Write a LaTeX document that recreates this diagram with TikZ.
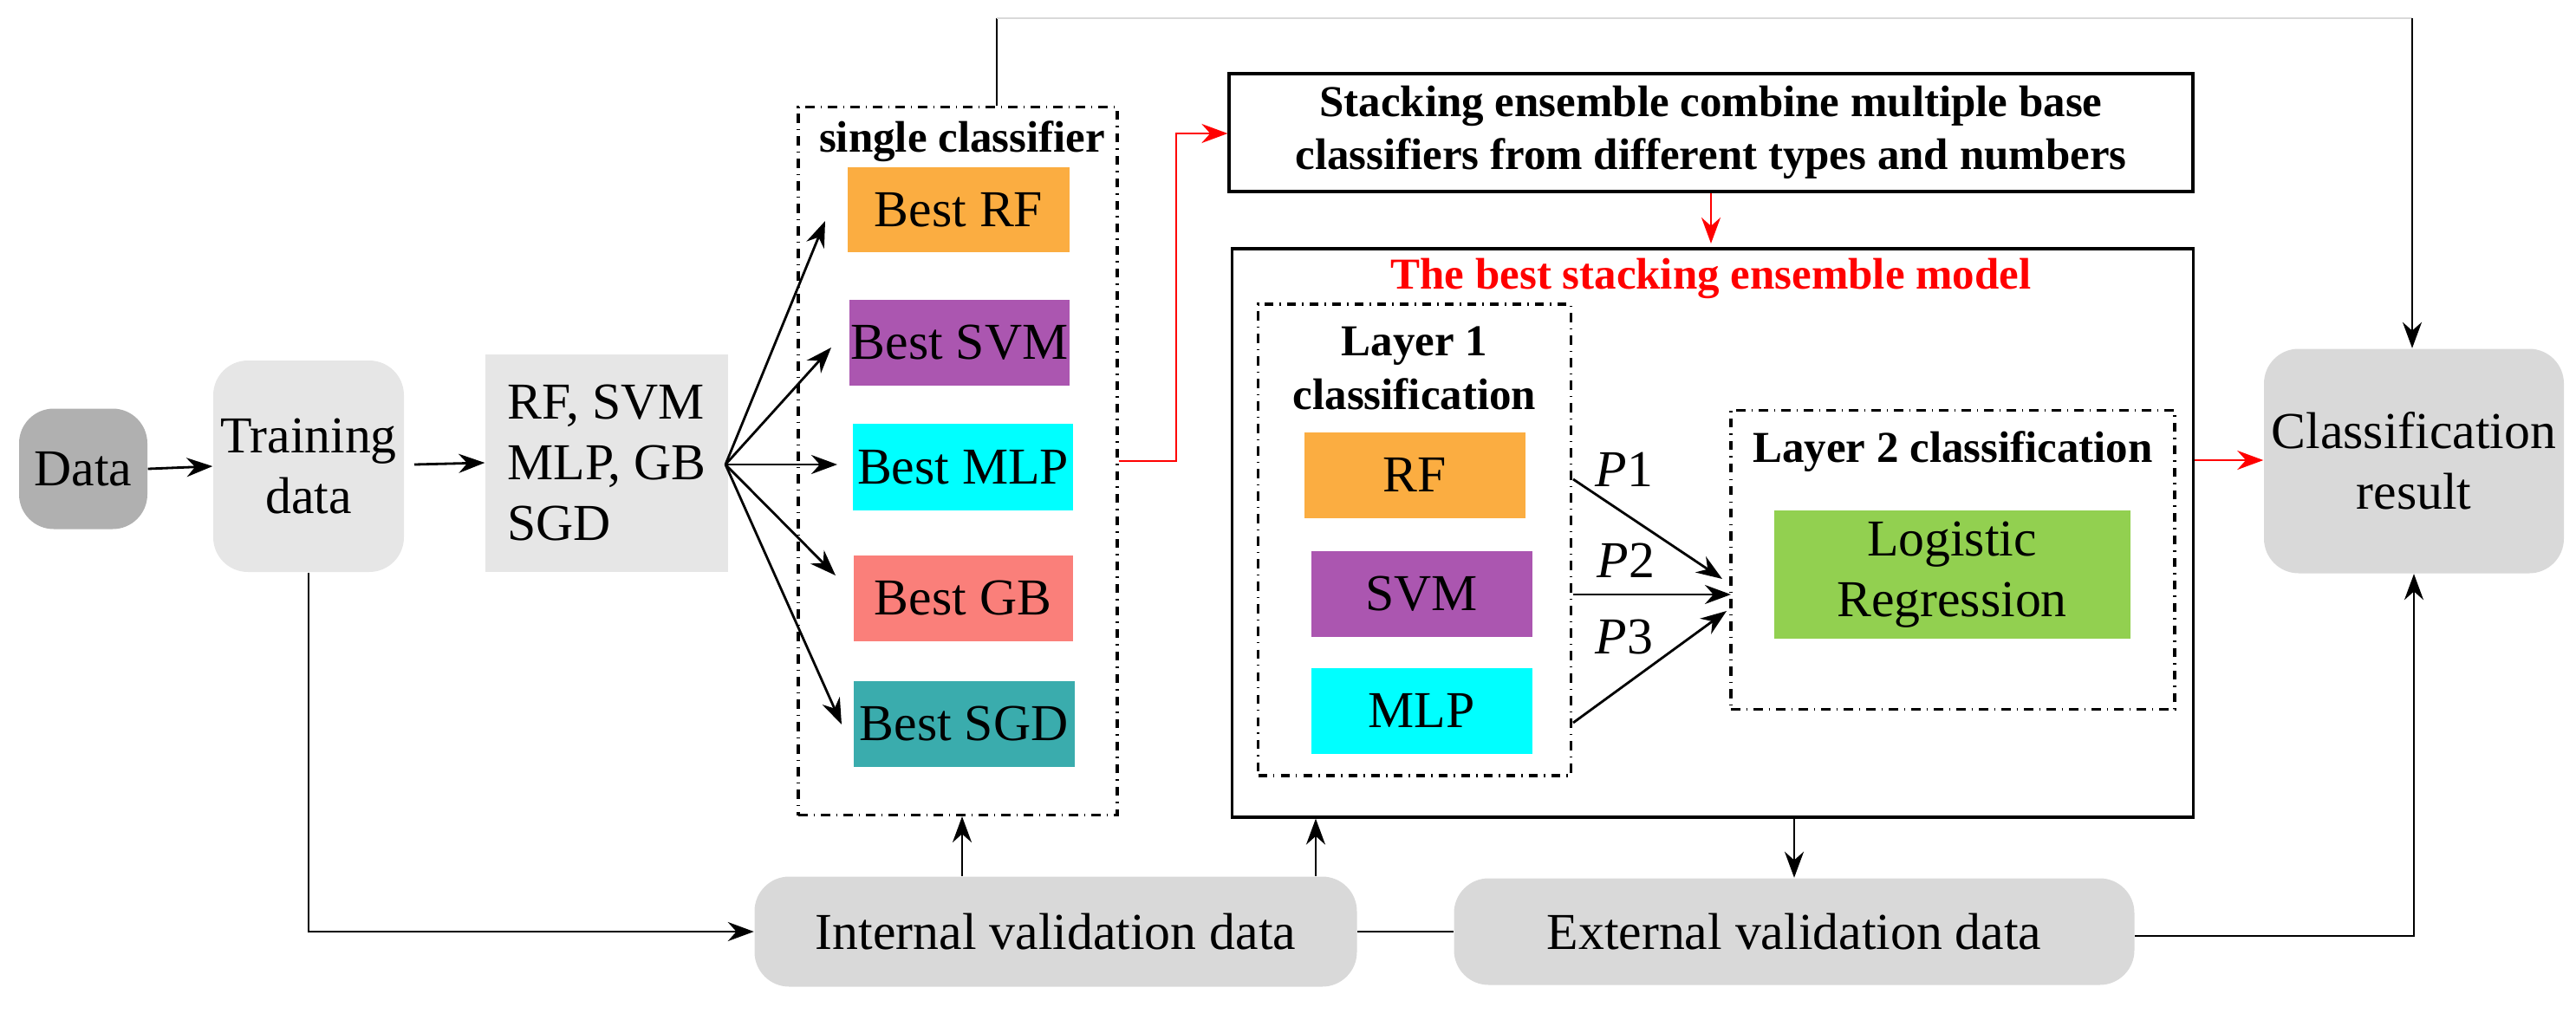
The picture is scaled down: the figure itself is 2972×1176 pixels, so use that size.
\documentclass[tikz,border=0pt]{standalone}
\usepackage{fontspec}
\setmainfont{Liberation Serif}
\usetikzlibrary{arrows.meta}
\definecolor{cRF}{HTML}{FBAD41}
\definecolor{cSVM}{HTML}{AB56B0}
\definecolor{cMLP}{HTML}{00FFFF}
\definecolor{cGB}{HTML}{FA7F7A}
\definecolor{cSGD}{HTML}{3AACAD}
\definecolor{cLR}{HTML}{92D050}
\definecolor{g1}{HTML}{B0B0B0}
\definecolor{g2}{HTML}{E6E6E6}
\definecolor{g3}{HTML}{D9D9D9}
\begin{document}
\begin{tikzpicture}[x=0.1mm,y=-0.1mm,
  txt/.style={font=\fontsize{17}{20}\selectfont},
  btxt/.style={font=\bfseries\fontsize{14.5}{17.5}\selectfont},
  box/.style={txt,inner sep=0,align=center},
  rbox/.style={box,rounded corners=4mm},
  dd/.style={dash dot,line width=0.9pt},
  arr/.style={-{Stealth[length=3mm,width=2.2mm]},line width=0.8pt},
  rarr/.style={arr,red}]
\useasboundingbox (0,0) rectangle (2972,1176);
% left nodes
\node[rbox,fill=g1,minimum width=148*0.1mm,minimum height=139*0.1mm] (data) at (96,541) {Data};
\node[rbox,fill=g2,minimum width=220*0.1mm,minimum height=244*0.1mm] (train) at (356,538) {Training\\data};
\node[box,fill=g2,minimum width=280*0.1mm,minimum height=251*0.1mm,align=left] (algs) at (700,534) {RF, SVM\\MLP, GB\\SGD};
% single classifier
\node[dd,draw,minimum width=368*0.1mm,minimum height=817*0.1mm,inner sep=0] (single) at (1105,532) {};
\node[btxt] (singlelbl) at (1110,163) {single classifier};
\node[box,fill=cRF,minimum width=256*0.1mm,minimum height=98*0.1mm] (bRF) at (1106,242) {Best RF};
\node[box,fill=cSVM,minimum width=254*0.1mm,minimum height=99*0.1mm] (bSVM) at (1107,395) {Best SVM};
\node[box,fill=cMLP,minimum width=254*0.1mm,minimum height=100*0.1mm] (bMLP) at (1111,539) {Best MLP};
\node[box,fill=cGB,minimum width=253*0.1mm,minimum height=99*0.1mm] (bGB) at (1111,690) {Best GB};
\node[box,fill=cSGD,minimum width=255*0.1mm,minimum height=99*0.1mm] (bSGD) at (1112,835) {Best SGD};
\coordinate (fan) at (837,536);
\coordinate (e1) at (952,255); \coordinate (e2) at (959,401);
\coordinate (e3) at (966,536); \coordinate (e4) at (964,664); \coordinate (e5) at (971,836);
\foreach \e in {e1,e2,e3,e4,e5} \draw[arr] (fan) -- (\e);
\draw[arr] (data.east) -- (train.west);
\draw[arr] (478,536) -- (algs.west);
% stacking box
\node[draw,line width=0.9pt,btxt,align=center,minimum width=1112*0.1mm,minimum height=136*0.1mm,inner sep=0] (stack) at (1974,153) {Stacking ensemble combine multiple base\\classifiers from different types and numbers};
\coordinate (r1) at (1357,532); \coordinate (r2) at (1357,154);
\draw[rarr] (single.east |- 0,532) -- (r1) -- (r2) -- (stack.west |- 0,154);
% model
\node[draw,line width=0.9pt,minimum width=1109*0.1mm,minimum height=656*0.1mm,inner sep=0] (model) at (1976,615) {};
\draw[rarr] (stack.south -| 1974,0) -- (1974,281);
\node[btxt,text=red] (title) at (1974,321) {The best stacking ensemble model};
\node[dd,draw,minimum width=361*0.1mm,minimum height=544*0.1mm,inner sep=0] (l1) at (1632,623) {};
\node[btxt,align=center] (l1lbl) at (1632,425) {Layer 1\\classification};
\node[box,fill=cRF,minimum width=255*0.1mm,minimum height=99*0.1mm] (RF) at (1632,548) {RF};
\node[box,fill=cSVM,minimum width=255*0.1mm,minimum height=99*0.1mm] (SVM) at (1640,685) {SVM};
\node[box,fill=cMLP,minimum width=255*0.1mm,minimum height=99*0.1mm] (MLP) at (1640,820) {MLP};
\node[dd,draw,minimum width=512*0.1mm,minimum height=345*0.1mm,inner sep=0] (l2) at (2253,646) {};
\node[btxt] (l2lbl) at (2253,521) {Layer 2 classification};
\node[box,fill=cLR,minimum width=411*0.1mm,minimum height=148*0.1mm] (LR) at (2252,663) {Logistic\\Regression};
\coordinate (p1s) at (1815,553); \coordinate (p2s) at (1815,686); \coordinate (p3s) at (1815,834);
\draw[arr] (p1s) -- (1987,668);
\draw[arr] (p2s) -- (1997,686);
\draw[arr] (p3s) -- (1992,705);
\node[txt] (P1) at (1874,542) {\textit{P}1};
\node[txt] (P2) at (1876,647) {\textit{P}2};
\node[txt] (P3) at (1874,735) {\textit{P}3};
% result
\node[rbox,fill=g3,minimum width=346*0.1mm,minimum height=259*0.1mm] (res) at (2785,532) {Classification\\result};
\draw[rarr] (model.east |- 0,531) -- (res.west |- 0,531);
% validation
\node[rbox,fill=g3,minimum width=695*0.1mm,minimum height=127*0.1mm] (int) at (1218,1075) {Internal validation data};
\node[rbox,fill=g3,minimum width=785*0.1mm,minimum height=123*0.1mm] (ext) at (2070,1075) {External validation data};
\draw[line width=0.8pt] (int.east) -- (ext.west);
\draw[arr] (train.south) |- (int.west);
\draw[arr] (int.north -| 1110,0) -- (single.south -| 1110,0);
\draw[arr] (int.north -| 1518,0) -- (model.south -| 1518,0);
\draw[arr] (model.south -| 2070,0) -- (ext.north -| 2070,0);
\draw[arr] (ext.east |- 0,1080) -| (res.south);
% top feedback
\coordinate (t1) at (1150,21); \coordinate (t2) at (2783,21);
\draw[line width=0.8pt] (single.north -| 1150,0) -- (t1);
\draw[line width=0.6pt,black!15] (t1) -- (t2);
\draw[arr] (t2) -- (res.north -| 2783,0);
\end{tikzpicture}
\end{document}
